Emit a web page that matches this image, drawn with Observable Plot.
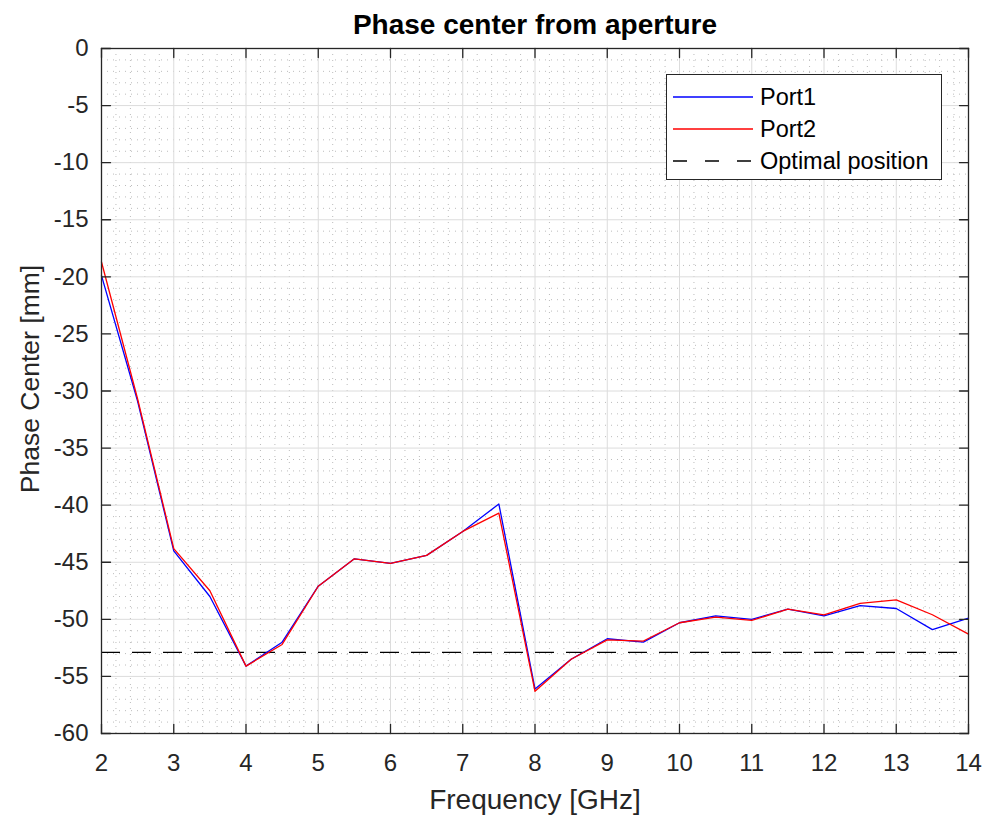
<!DOCTYPE html>
<html><head><meta charset="utf-8">
<script src="https://cdn.jsdelivr.net/npm/d3@7"></script>
<script src="https://cdn.jsdelivr.net/npm/@observablehq/plot@0.6"></script>
<style>
body{margin:0;background:#fff}
#wrap{position:relative;width:984px;height:818px;font-family:"Liberation Sans",Arial,sans-serif}
#legend{position:absolute;left:666px;top:74px;width:274px;height:104px;border:1.3px solid #262626;background:#fff}
</style>
</head><body><div id="wrap"><div id="chart"></div><div id="legend"></div></div>
<script>
const freq = [2,2.5,3,3.5,4,4.5,5,5.5,6,6.5,7,7.5,8,8.5,9,9.5,10,10.5,11,11.5,12,12.5,13,13.5,14];
const port1 = [-19.9,-30.9,-44.0,-48.0,-54.1,-52.0,-47.1,-44.7,-45.1,-44.4,-42.3,-39.9,-56.1,-53.5,-51.7,-52.0,-50.3,-49.7,-50.0,-49.1,-49.7,-48.8,-49.05,-50.9,-49.9];
const port2 = [-18.7,-30.7,-43.8,-47.5,-54.1,-52.2,-47.1,-44.7,-45.1,-44.4,-42.3,-40.7,-56.3,-53.5,-51.8,-51.9,-50.3,-49.8,-50.1,-49.1,-49.6,-48.6,-48.3,-49.6,-51.3];
const optimal = -52.9;
const xTicks = [2,3,4,5,6,7,8,9,10,11,12,13,14];
const yTicks = [-60,-55,-50,-45,-40,-35,-30,-25,-20,-15,-10,-5,0];
const seriesNames = ["Port1","Port2","Optimal position"];
const seriesColors = ["#0000ff","#ff0000","#000000"];
const title = "Phase center from aperture";
const xLabel = "Frequency [GHz]";
const yLabel = "Phase Center [mm]";

const d1 = freq.map((f,i)=>({f, v:port1[i]}));
const d2 = freq.map((f,i)=>({f, v:port2[i]}));
const minorX = d3.range(2,14.001,0.2).filter(v=>Math.abs(v-Math.round(v))>1e-6);
const minorY = d3.range(-60,0.001,1).filter(v=>v%5!==0);
const ax = "#262626";
const tickShape = {draw(ctx,l){ctx.moveTo(0,0);ctx.lineTo(0,-l);}};
const tk = {length:9, anchor:"start", shape:tickShape, stroke:ax, strokeWidth:1.3};
const fmt = d => String(d);

const chart = Plot.plot({
  width:984, height:818,
  marginLeft:101, marginRight:16, marginTop:48, marginBottom:85,
  style:{fontFamily:'"Liberation Sans",Arial,sans-serif', color:ax, background:"#fff"},
  x:{domain:[2,14]},
  y:{domain:[-60,0]},
  marks:[
    Plot.ruleX(minorX,{stroke:"#bcbcbc", strokeWidth:1, strokeDasharray:"1,5"}),
    Plot.ruleY(minorY,{stroke:"#bcbcbc", strokeWidth:1, strokeDasharray:"1,5"}),
    Plot.ruleX(xTicks,{stroke:"#dcdcdc", strokeWidth:1}),
    Plot.ruleY(yTicks,{stroke:"#dcdcdc", strokeWidth:1}),
    Plot.ruleY([optimal],{stroke:seriesColors[2], strokeWidth:1.3, strokeDasharray:"19,12"}),
    Plot.line(d1,{x:"f", y:"v", stroke:seriesColors[0], strokeWidth:1.3}),
    Plot.line(d2,{x:"f", y:"v", stroke:seriesColors[1], strokeWidth:1.3}),
    Plot.frame({stroke:ax, strokeWidth:1.3}),
    Plot.vector(xTicks,{x:d=>d, frameAnchor:"bottom", rotate:0, ...tk}),
    Plot.vector(xTicks,{x:d=>d, frameAnchor:"top", rotate:180, ...tk}),
    Plot.vector(yTicks,{y:d=>d, frameAnchor:"left", rotate:90, ...tk}),
    Plot.vector(yTicks,{y:d=>d, frameAnchor:"right", rotate:-90, ...tk}),
    Plot.axisX({ticks:xTicks, tickSize:0, tickPadding:20, fontSize:24, label:null, fill:ax, tickFormat:fmt}),
    Plot.axisY({ticks:yTicks, tickSize:0, tickPadding:13, fontSize:24, label:null, fill:ax, tickFormat:fmt}),
    Plot.text([title],{frameAnchor:"top", lineAnchor:"middle", dy:-23, fontSize:28, fontWeight:"bold", fill:"#000"}),
    Plot.text([xLabel],{frameAnchor:"bottom", lineAnchor:"middle", dy:67, fontSize:28, fill:ax}),
    Plot.text([yLabel],{frameAnchor:"left", textAnchor:"middle", lineAnchor:"middle", dx:-71, dy:-12, rotate:-90, fontSize:26.5, fill:ax})
  ]
});
document.getElementById("chart").appendChild(chart);

// legend
const lg = d3.select("#legend").append("svg").attr("width",274).attr("height",104);
const rowsY = [22, 54, 86];
seriesNames.forEach((n,i)=>{
  lg.append("line").attr("x1",6).attr("x2",86).attr("y1",rowsY[i]).attr("y2",rowsY[i])
    .attr("stroke",seriesColors[i]).attr("stroke-width",1.3)
    .attr("stroke-dasharray", i===2 ? "14,18" : null);
  lg.append("text").attr("x",93).attr("y",rowsY[i]).attr("dy","0.35em")
    .attr("font-size",23.5).attr("fill","#000").attr("font-family",'"Liberation Sans",Arial,sans-serif').text(n);
});
</script>
</body></html>
